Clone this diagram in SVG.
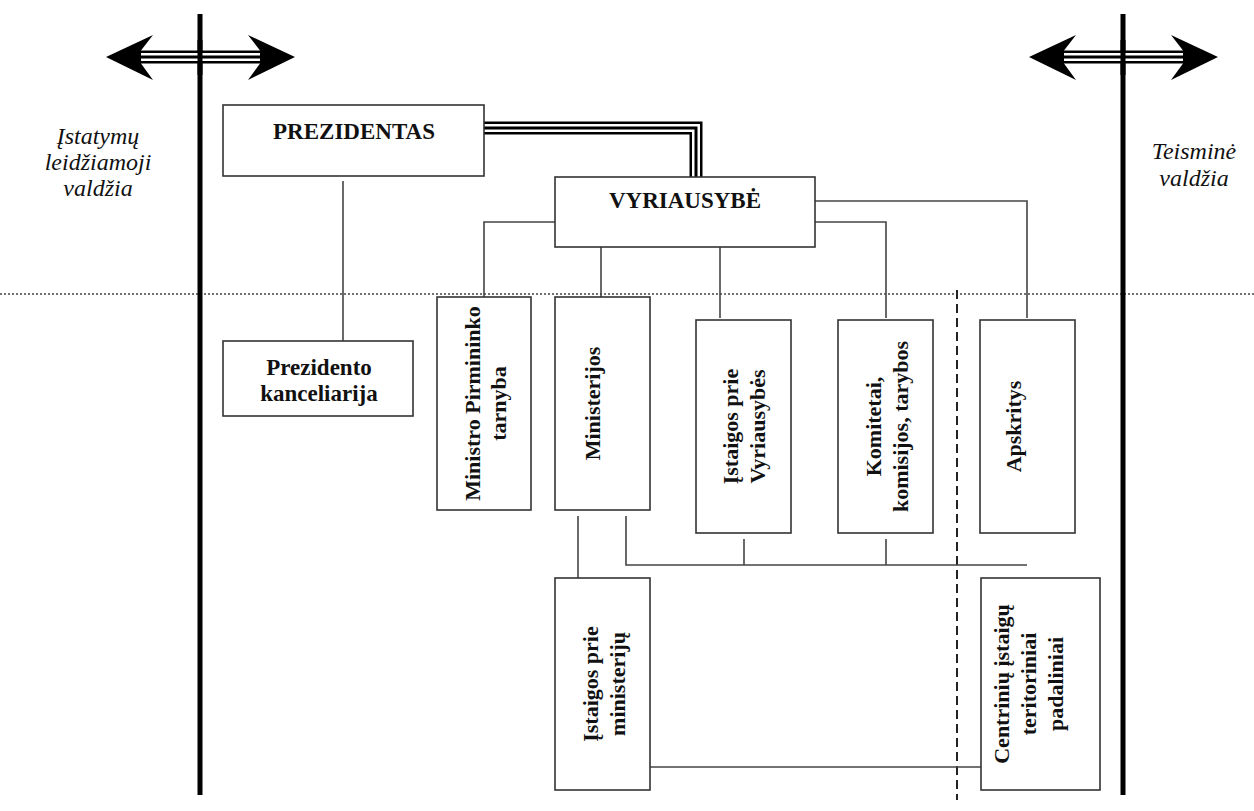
<svg xmlns="http://www.w3.org/2000/svg" width="1254" height="811" viewBox="0 0 1254 811">
<style>
.box{fill:#fff;stroke:#333;stroke-width:1.6}
.ln{fill:none;stroke:#444;stroke-width:1.6}
.t{font-family:"Liberation Serif","Times New Roman",serif;font-weight:bold;font-size:23px;fill:#111;text-anchor:middle}
.v{font-family:"Liberation Serif","Times New Roman",serif;font-weight:bold;font-size:22px;fill:#111;text-anchor:middle}
.it{font-family:"Liberation Serif","Times New Roman",serif;font-style:italic;font-size:24px;fill:#111;text-anchor:middle}
.tripleA{fill:none;stroke:#000;stroke-width:13}
.tripleB{fill:none;stroke:#fff;stroke-width:8}
.tripleC{fill:none;stroke:#000;stroke-width:3}
.head{fill:#000}
</style>
<rect width="1254" height="811" fill="#fff"/>
<g id="dividers">
<line x1="0" y1="294" x2="1254" y2="294" stroke="#444" stroke-width="1.5" stroke-dasharray="2 2"/>
<line x1="957" y1="290" x2="957" y2="800" stroke="#222" stroke-width="2" stroke-dasharray="9 5"/>
<line x1="200" y1="14" x2="200" y2="795" stroke="#000" stroke-width="5"/>
<line x1="1123" y1="14" x2="1123" y2="795" stroke="#000" stroke-width="5"/>
</g>
<g id="arrow-left">
<path class="tripleA" d="M140,57 H261"/>
<path class="tripleB" d="M140,57 H261"/>
<path class="tripleC" d="M140,57 H261"/>
<polygon class="head" points="106,57 153,35 141,50.5 141,63.5 153,80"/>
<polygon class="head" points="295,57 248,35 260,50.5 260,63.5 248,80"/>
<line x1="200" y1="40" x2="200" y2="75" stroke="#000" stroke-width="5"/>
</g>
<g id="arrow-right">
<path class="tripleA" d="M1063,57 H1184"/>
<path class="tripleB" d="M1063,57 H1184"/>
<path class="tripleC" d="M1063,57 H1184"/>
<polygon class="head" points="1029,57 1076,35 1064,50.5 1064,63.5 1076,80"/>
<polygon class="head" points="1218,57 1171,35 1183,50.5 1183,63.5 1171,80"/>
<line x1="1123" y1="40" x2="1123" y2="75" stroke="#000" stroke-width="5"/>
</g>
<g id="label-left">
<text class="it" x="98" y="144">Įstatymų</text>
<text class="it" x="98" y="170">leidžiamoji</text>
<text class="it" x="98" y="196">valdžia</text>
</g>
<g id="label-right">
<text class="it" x="1194" y="159">Teisminė</text>
<text class="it" x="1194" y="186">valdžia</text>
</g>
<g id="connectors">
<path class="tripleA" d="M484,128 H696 V177"/>
<path class="tripleB" d="M484,128 H696 V177"/>
<path class="tripleC" d="M484,128 H696 V177"/>
<path class="ln" d="M343,181 V341"/>
<path class="ln" d="M555,222 H484 V297"/>
<path class="ln" d="M601,247 V297"/>
<path class="ln" d="M720,247 V318"/>
<path class="ln" d="M815,222 H886 V318"/>
<path class="ln" d="M815,201 H1027 V318"/>
<path class="ln" d="M578,516 V578"/>
<path class="ln" d="M626,516 V565 H1027"/>
<path class="ln" d="M744,539 V565"/>
<path class="ln" d="M886,539 V565"/>
<path class="ln" d="M650,767 H981"/>
</g>
<g id="prezidentas">
<rect class="box" x="223" y="105" width="261" height="71"/>
<text class="t" x="354" y="139">PREZIDENTAS</text>
</g>
<g id="vyriausybe">
<rect class="box" x="555" y="177" width="260" height="70"/>
<text class="t" x="685" y="208">VYRIAUSYBĖ</text>
</g>
<g id="prezidento-kanceliarija">
<rect class="box" x="223" y="341" width="190" height="75"/>
<text class="t" x="319" y="375">Prezidento</text>
<text class="t" x="319" y="401">kanceliarija</text>
</g>
<g id="ministro-pirmininko-tarnyba">
<rect class="box" x="437" y="297" width="94" height="213"/>
<text class="v" transform="translate(480,403.5) rotate(-90)">Ministro Pirmininko</text>
<text class="v" transform="translate(506,403.5) rotate(-90)">tarnyba</text>
</g>
<g id="ministerijos">
<rect class="box" x="555" y="297" width="95" height="213"/>
<text class="v" transform="translate(600,403.5) rotate(-90)">Ministerijos</text>
</g>
<g id="istaigos-prie-vyriausybes">
<rect class="box" x="696" y="320" width="95" height="213"/>
<text class="v" transform="translate(738,426.5) rotate(-90)">Įstaigos prie</text>
<text class="v" transform="translate(765,426.5) rotate(-90)">Vyriausybės</text>
</g>
<g id="komitetai">
<rect class="box" x="838" y="320" width="95" height="213"/>
<text class="v" transform="translate(881,426.5) rotate(-90)">Komitetai,</text>
<text class="v" transform="translate(908,426.5) rotate(-90)">komisijos, tarybos</text>
</g>
<g id="apskritys">
<rect class="box" x="980" y="320" width="95" height="213"/>
<text class="v" transform="translate(1021,426.5) rotate(-90)">Apskritys</text>
</g>
<g id="istaigos-prie-ministeriju">
<rect class="box" x="555" y="578" width="95" height="212"/>
<text class="v" transform="translate(598,684) rotate(-90)">Įstaigos prie</text>
<text class="v" transform="translate(625,684) rotate(-90)">ministerijų</text>
</g>
<g id="centriniu-istaigu">
<rect class="box" x="981" y="578" width="119" height="212"/>
<text class="v" transform="translate(1009,684) rotate(-90)">Centrinių įstaigų</text>
<text class="v" transform="translate(1036,684) rotate(-90)">teritoriniai</text>
<text class="v" transform="translate(1063,684) rotate(-90)">padaliniai</text>
</g>
</svg>
